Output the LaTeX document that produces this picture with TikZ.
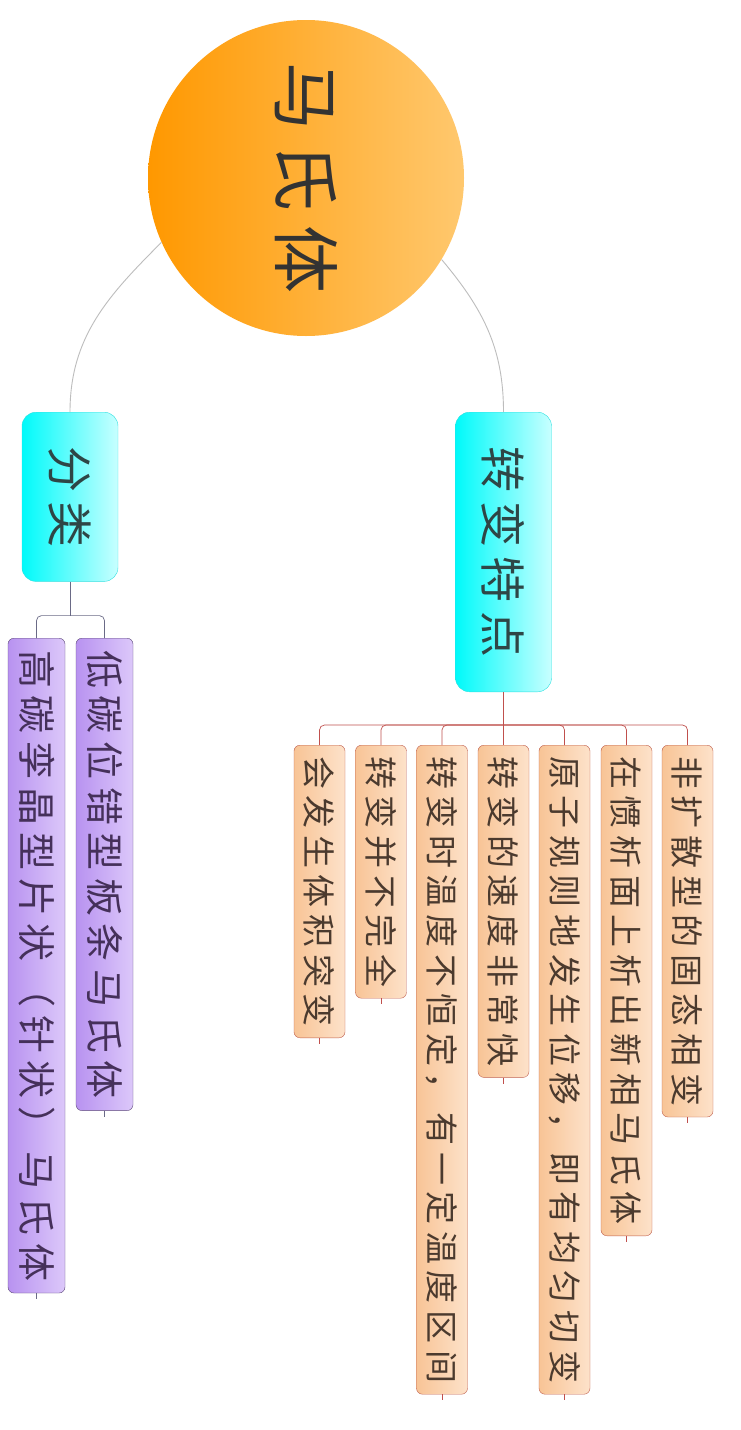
\documentclass[tikz,border=0pt]{standalone}
\usepackage{fontspec}
\usepackage{graphicx}
\newfontfamily\cjk[LetterSpace=20]{Noto Sans CJK SC}
\newcommand{\vtext}[1]{\rotatebox[origin=c]{-90}{#1}}

\definecolor{root-left}{HTML}{FF9800}
\definecolor{root-right}{HTML}{FFC86E}
\definecolor{root-text}{HTML}{333333}
\definecolor{topic-left}{HTML}{00FAFA}
\definecolor{topic-right}{HTML}{C8FFFF}
\definecolor{topic-border}{HTML}{30E0E0}
\definecolor{topic-text}{HTML}{2E4646}
\definecolor{feature-left}{HTML}{F8C496}
\definecolor{feature-right}{HTML}{FDE2CA}
\definecolor{feature-border}{HTML}{C0604E}
\definecolor{feature-text}{HTML}{4B3A2E}
\definecolor{feature-line}{HTML}{C0504D}
\definecolor{class-left}{HTML}{B892F0}
\definecolor{class-right}{HTML}{DCC8FA}
\definecolor{class-border}{HTML}{5E4A7A}
\definecolor{class-text}{HTML}{45305A}
\definecolor{class-line}{HTML}{6A6A86}
\definecolor{root-line}{HTML}{BDBDBD}

\tikzstyle{root-node}=[circle, minimum size=316pt, inner sep=0pt, left color=root-left,
      middle color=root-left, right color=root-right, text=root-text,
      font=\cjk\fontsize{68}{80}\selectfont]
\tikzstyle{topic-box}=[rounded corners=14pt, minimum width=96pt, inner xsep=0pt, inner ysep=34pt,
      left color=topic-left, middle color=topic-left, right color=topic-right, draw=topic-border,
      text=topic-text, anchor=north, font=\cjk\fontsize{46}{54}\selectfont]
\tikzstyle{feature-box}=[rounded corners=6pt, minimum width=51pt, inner xsep=0pt, inner ysep=11pt,
      left color=feature-left, right color=feature-right, draw=feature-border, thin,
      text=feature-text, anchor=north, font=\cjk\fontsize{33}{40}\selectfont]
\tikzstyle{class-box}=[rounded corners=6pt, minimum width=57pt, inner xsep=0pt, inner ysep=12pt,
      left color=class-left, right color=class-right, draw=class-border, thin,
      text=class-text, anchor=north, font=\cjk\fontsize{38}{46}\selectfont]
\tikzstyle{root-link}=[draw=root-line, line width=0.9pt]
\tikzstyle{feature-link}=[draw=feature-line, line width=0.7pt]
\tikzstyle{class-link}=[draw=class-line, line width=0.7pt]

\begin{document}
\begin{tikzpicture}[x=1pt, y=-1pt]
      \fill[white] (0,0) rectangle (740,1430);
      \useasboundingbox (0,0) rectangle (740,1430);

      \node (root) at (306, 178) [root-node] {\vtext{马氏体}};

      \node (change) at (503.5, 412) [topic-box] {\vtext{转变特点}};
      \node (kind) at (70, 412) [topic-box] {\vtext{分类}};

      \node (feature1) at (687.5, 745) [feature-box] {\vtext{非扩散型的固态相变}};
      \node (feature2) at (626.5, 745) [feature-box] {\vtext{在惯析面上析出新相马氏体}};
      \node (feature3) at (564.5, 745) [feature-box] {\vtext{原子规则地发生位移，即有均匀切变}};
      \node (feature4) at (503.5, 745) [feature-box] {\vtext{转变的速度非常快}};
      \node (feature5) at (442, 745) [feature-box] {\vtext{转变时温度不恒定，有一定温度区间}};
      \node (feature6) at (381, 745) [feature-box] {\vtext{转变并不完全}};
      \node (feature7) at (319.5, 745) [feature-box] {\vtext{会发生体积突变}};

      \node (class1) at (104.5, 638) [class-box] {\vtext{低碳位错型板条马氏体}};
      \node (class2) at (36.5, 638) [class-box] {\vtext{高碳孪晶型片状（针状）马氏体}};

      % root to topics
      \draw[root-link] (root.-31) to[out=-50, in=90] (change.north);
      \draw[root-link] (root.204) to[out=-135, in=90] (kind.north);

      % topics to leaves
      \draw[feature-link] (change.south) -- ++(0,33) coordinate (change-hub);
      \draw[feature-link, rounded corners=5pt] (change-hub) -| (feature1.north);
      \draw[feature-link, rounded corners=5pt] (change-hub) -| (feature2.north);
      \draw[feature-link, rounded corners=5pt] (change-hub) -| (feature3.north);
      \draw[feature-link] (change-hub) -- (feature4.north);
      \draw[feature-link, rounded corners=5pt] (change-hub) -| (feature5.north);
      \draw[feature-link, rounded corners=5pt] (change-hub) -| (feature6.north);
      \draw[feature-link, rounded corners=5pt] (change-hub) -| (feature7.north);

      \draw[class-link] (kind.south) -- ++(0,34) coordinate (kind-hub);
      \draw[class-link, rounded corners=5pt] (kind-hub) -| (class1.north);
      \draw[class-link, rounded corners=5pt] (kind-hub) -| (class2.north);

      % stubs under leaves
      \draw[feature-link] (feature1.south) -- ++(0,6);
      \draw[feature-link] (feature2.south) -- ++(0,6);
      \draw[feature-link] (feature3.south) -- ++(0,6);
      \draw[feature-link] (feature4.south) -- ++(0,6);
      \draw[feature-link] (feature5.south) -- ++(0,6);
      \draw[feature-link] (feature6.south) -- ++(0,6);
      \draw[feature-link] (feature7.south) -- ++(0,6);
      \draw[class-link] (class1.south) -- ++(0,6);
      \draw[class-link] (class2.south) -- ++(0,6);
\end{tikzpicture}
\end{document}
